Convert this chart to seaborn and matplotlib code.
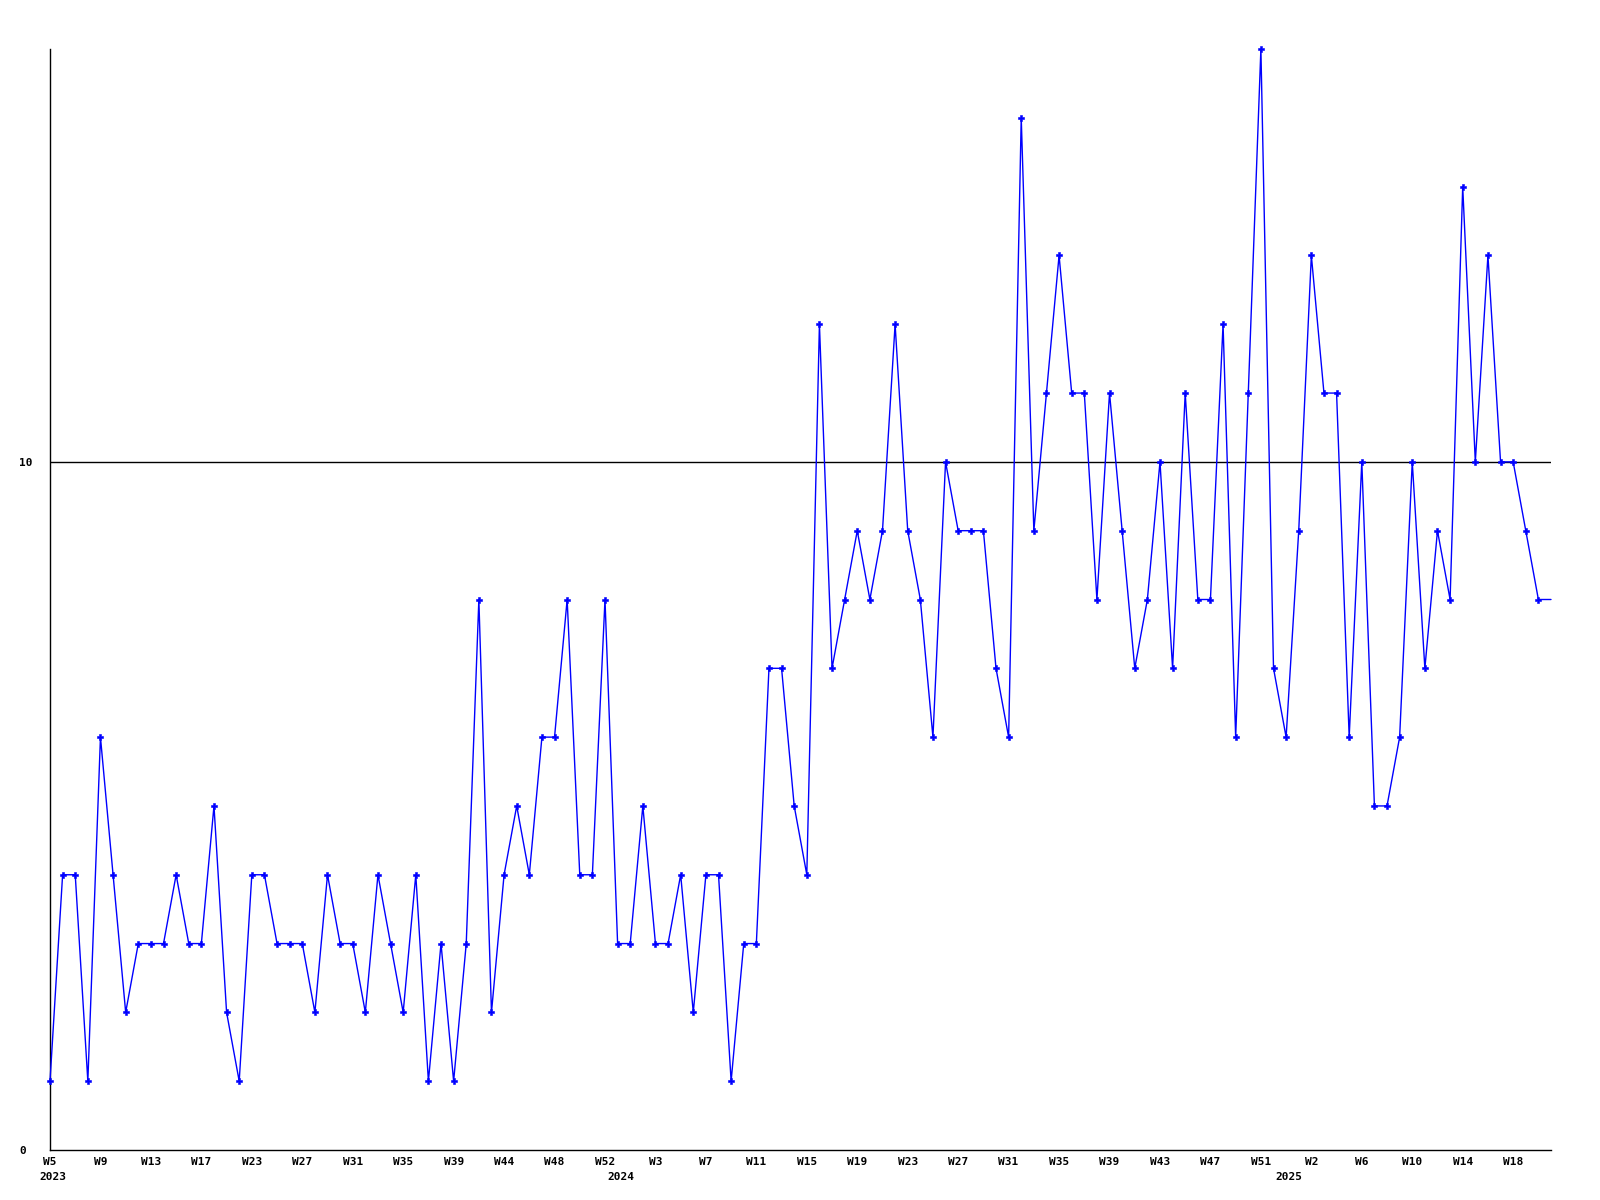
import numpy as np
import pandas as pd
import matplotlib
matplotlib.use("Agg")
import matplotlib.pyplot as plt
import seaborn as sns

# weekly counts, 2023 W5 .. 2025 W19 (one point per week index)
counts = [
    1, 4, 4, 1, 6, 4, 2, 3, 3, 3, 4, 3, 3, 5, 2, 1, 4, 4, 3, 3,
    3, 2, 4, 3, 3, 2, 4, 3, 2, 4, 1, 3, 1, 3, 8, 2, 4, 5, 4, 6,
    6, 8, 4, 4, 8, 3, 3, 5, 3, 3, 4, 2, 4, 4, 1, 3, 3, 7, 7, 5,
    4, 12, 7, 8, 9, 8, 9, 12, 9, 8, 6, 10, 9, 9, 9, 7, 6, 15, 9, 11,
    13, 11, 11, 8, 11, 9, 7, 8, 10, 7, 11, 8, 8, 12, 6, 11, 16, 7, 6, 9,
    13, 11, 11, 6, 10, 5, 5, 6, 10, 7, 9, 8, 14, 10, 13, 10, 10, 9, 8, 8,
]
week_labels = ["W5", "W9", "W13", "W17", "W23", "W27", "W31", "W35", "W39", "W44",
               "W48", "W52", "W3", "W7", "W11", "W15", "W19", "W23", "W27", "W31",
               "W35", "W39", "W43", "W47", "W51", "W2", "W6", "W10", "W14", "W18"]
week_pos = list(range(0, 120, 4))
years = ["2023", "2024", "2025"]
year_pos = [0, 45, 98]
threshold = 10

df = pd.DataFrame({"idx": np.arange(len(counts)), "count": counts})

sns.set_theme(style="white")
plt.rcParams["font.family"] = ["DejaVu Sans Mono", "DejaVu Sans"]
plt.rcParams["font.weight"] = "bold"
plt.rcParams["text.color"] = "black"
plt.rcParams["xtick.color"] = "black"
plt.rcParams["ytick.color"] = "black"

fig = plt.figure(figsize=(16, 12), dpi=100)
ax = fig.add_axes([50 / 1600, 1 - 1150 / 1200, 1501 / 1600, 1101 / 1200])

sns.lineplot(data=df, x="idx", y="count", ax=ax, color="#0000ff", linewidth=1,
             marker="P", markersize=5, markeredgewidth=0.4, markeredgecolor="#0000ff",
             markevery=list(range(len(counts) - 1)), clip_on=False, zorder=3)
ax.axhline(threshold, color="black", linewidth=1, zorder=2)

ax.set_xlim(0, len(counts) - 1)
ax.set_ylim(0, 16)
ax.set_xticks(week_pos, week_labels)
ax.set_yticks([0, 10], ["0", "10"])
ax.tick_params(axis="x", length=0, pad=5, labelsize=8, labelcolor="black")
ax.tick_params(axis="y", length=0, pad=22.3, labelsize=8, labelcolor="black")
for lbl in ax.get_yticklabels():
    lbl.set_horizontalalignment("left")
for y, p in zip(years, year_pos):
    ax.annotate(y, xy=(p, 0), xycoords=("data", "axes fraction"),
                xytext=(2, -19.5), textcoords="offset points",
                ha="center", va="center", fontsize=8, fontweight="bold", color="black")

ax.set_xlabel("")
ax.set_ylabel("")
for side in ["top", "right"]:
    ax.spines[side].set_visible(False)
for side in ["left", "bottom"]:
    ax.spines[side].set_color("black")
    ax.spines[side].set_linewidth(1)

fig.savefig("out.png", dpi=100, facecolor="white")
